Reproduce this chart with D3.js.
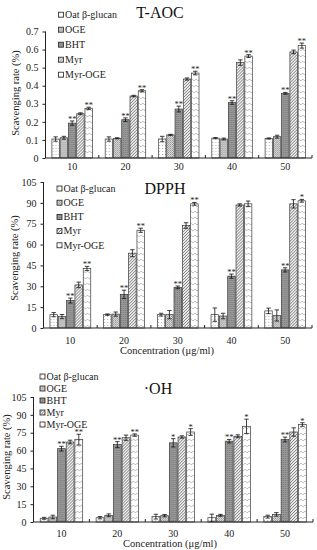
<!DOCTYPE html>
<html>
<head>
<meta charset="utf-8">
<script src="https://cdn.jsdelivr.net/npm/d3@7"></script>
<style>
  body { margin: 0; background: #fff; }
  svg { display: block; font-family: "Liberation Serif", "Times New Roman", serif; }
</style>
</head>
<body>
<svg id="chart" width="317" height="550"></svg>
<script>
var categories = ["10", "20", "30", "40", "50"];
var series = ["Oat β-glucan", "OGE", "BHT", "Myr", "Myr-OGE"];

// T-AOC values, one row per concentration, columns follow series
var taocValues = [
    [0.105, 0.112, 0.193, 0.245, 0.275],
    [0.105, 0.109, 0.212, 0.343, 0.372],
    [0.105, 0.128, 0.271, 0.437, 0.470],
    [0.110, 0.105, 0.307, 0.528, 0.564],
    [0.108, 0.118, 0.358, 0.587, 0.622]
];
var taocErrors = [
    [0.012, 0.008, 0.012, 0.005, 0.006],
    [0.012, 0.003, 0.010, 0.004, 0.006],
    [0.015, 0.003, 0.016, 0.006, 0.010],
    [0.003, 0.005, 0.010, 0.015, 0.008],
    [0.003, 0.008, 0.005, 0.010, 0.014]
];
var taocStars = [
    ["", "", "**", "", "**"],
    ["", "", "**", "", "**"],
    ["", "", "**", "", "**"],
    ["", "", "**", "", "**"],
    ["", "", "**", "", "**"]
];

var dpphValues = [
    [9.6, 8.2, 19.7, 31.0, 42.8],
    [9.6, 10.0, 24.2, 53.8, 70.3],
    [9.6, 9.6, 29.2, 73.7, 89.3],
    [9.6, 8.6, 37.3, 88.5, 89.3],
    [12.3, 9.0, 41.8, 89.3, 91.5]
];
var dpphErrors = [
    [1.5, 1.5, 1.8, 2.0, 1.5],
    [0.5, 1.5, 3.0, 2.5, 1.5],
    [1.0, 3.0, 1.0, 2.0, 1.0],
    [4.8, 2.0, 1.5, 0.8, 2.0],
    [2.0, 4.0, 1.5, 3.0, 1.0]
];
var dpphStars = [
    ["", "", "**", "", "**"],
    ["", "", "**", "", "**"],
    ["", "", "**", "", "**"],
    ["", "", "**", "", ""],
    ["", "", "**", "", "*"]
];

var ohValues = [
    [3.1, 4.2, 61.6, 67.2, 69.2],
    [3.6, 5.6, 65.0, 70.8, 73.0],
    [4.5, 5.3, 66.5, 71.4, 75.6],
    [3.6, 5.6, 67.9, 72.0, 80.4],
    [4.5, 6.4, 69.3, 75.6, 81.9]
];
var ohErrors = [
    [0.8, 1.5, 2.0, 1.5, 4.5],
    [1.0, 1.2, 2.5, 2.2, 1.0],
    [2.0, 1.0, 3.5, 1.0, 2.8],
    [3.0, 0.8, 1.5, 1.2, 6.0],
    [1.2, 1.5, 2.0, 3.5, 1.5]
];
var ohStars = [
    ["", "", "**", "", "**"],
    ["", "", "**", "", "**"],
    ["", "", "*", "", "*"],
    ["", "", "**", "", "*"],
    ["", "", "**", "", "*"]
];

var taocTicks = [0, 0.1, 0.2, 0.3, 0.4, 0.5, 0.6, 0.7];
var rateTicks = [0, 15, 30, 45, 60, 75, 90, 105];

var svg = d3.select("#chart");

/*
 * fill patterns for the five series
 */
var defs = svg.append("defs");

var p0 = defs.append("pattern").attr("id", "pat0").attr("patternUnits", "userSpaceOnUse")
    .attr("width", 3).attr("height", 3);
p0.append("rect").attr("width", 3).attr("height", 3).attr("fill", "#ffffff");
p0.append("rect").attr("x", 1).attr("y", 1).attr("width", 1).attr("height", 1).attr("fill", "#b5b5b5");

var p1 = defs.append("pattern").attr("id", "pat1").attr("patternUnits", "userSpaceOnUse")
    .attr("width", 2).attr("height", 2);
p1.append("rect").attr("width", 2).attr("height", 2).attr("fill", "#e2e2e2");
p1.append("rect").attr("width", 1).attr("height", 1).attr("fill", "#8f8f8f");
p1.append("rect").attr("x", 1).attr("y", 1).attr("width", 1).attr("height", 1).attr("fill", "#a5a5a5");

var p2 = defs.append("pattern").attr("id", "pat2").attr("patternUnits", "userSpaceOnUse")
    .attr("width", 2).attr("height", 2);
p2.append("rect").attr("width", 2).attr("height", 2).attr("fill", "#979797");
p2.append("rect").attr("width", 1).attr("height", 1).attr("fill", "#7c7c7c");

var p3 = defs.append("pattern").attr("id", "pat3").attr("patternUnits", "userSpaceOnUse")
    .attr("width", 3).attr("height", 3);
p3.append("rect").attr("width", 3).attr("height", 3).attr("fill", "#ececec");
p3.append("path").attr("d", "M-1,1 L1,-1 M0,3 L3,0 M2,4 L4,2")
    .attr("stroke", "#747474").attr("stroke-width", 0.9);

var p4 = defs.append("pattern").attr("id", "pat4").attr("patternUnits", "userSpaceOnUse")
    .attr("width", 4).attr("height", 6);
p4.append("rect").attr("width", 4).attr("height", 6).attr("fill", "#ffffff");
p4.append("path").attr("d", "M0,1 L2,3 L4,1")
    .attr("fill", "none").attr("stroke", "#a8a8a8").attr("stroke-width", 0.7);

var fills = ["url(#pat0)", "url(#pat1)", "url(#pat2)", "url(#pat3)", "url(#pat4)"];

/*
 * draws one bar panel
 * @param {object} cfg  layout of the panel
 */
function renderPanel(cfg) {
    var g = svg.append("g");

    var x0 = d3.scaleBand().domain(categories).range([cfg.left, cfg.right]);
    var bw = x0.bandwidth();
    var x1 = d3.scaleBand().domain(series).range([bw * 0.12, bw * 0.88]).paddingInner(0.1);
    var y = d3.scaleLinear().domain([0, cfg.ymax]).range([cfg.bottom, cfg.top]);

    // bars
    var groups = g.selectAll("g.grp")
        .data(categories)
        .enter().append("g")
        .attr("class", "grp")
        .attr("transform", function(d) { return "translate(" + x0(d) + ",0)"; });

    groups.each(function(c, ci) {
        var grp = d3.select(this);
        series.forEach(function(s, si) {
            var v = cfg.values[ci][si];
            var e = cfg.errors[ci][si];
            var bx = x1(s);
            var cx = bx + x1.bandwidth() / 2;
            grp.append("rect")
                .attr("x", bx)
                .attr("y", y(v))
                .attr("width", x1.bandwidth())
                .attr("height", y(0) - y(v))
                .attr("fill", fills[si])
                .attr("stroke", "#3a3a3a")
                .attr("stroke-width", 0.7);

            // error bar
            grp.append("line")
                .attr("x1", cx).attr("x2", cx)
                .attr("y1", y(v - e)).attr("y2", y(v + e))
                .attr("stroke", "#111").attr("stroke-width", 0.8);
            [v - e, v + e].forEach(function(yy) {
                grp.append("line")
                    .attr("x1", cx - 2.2).attr("x2", cx + 2.2)
                    .attr("y1", y(yy)).attr("y2", y(yy))
                    .attr("stroke", "#111").attr("stroke-width", 0.8);
            });

            var star = cfg.stars[ci][si];
            if (star) {
                grp.append("text")
                    .attr("x", cx)
                    .attr("y", y(v + e) + 1)
                    .attr("text-anchor", "middle")
                    .attr("font-size", 8.5)
                    .attr("fill", "#222")
                    .text(star);
            }
        });
    });

    // y axis
    var yAxis = d3.axisLeft(y)
        .tickValues(cfg.ticks)
        .tickSize(3)
        .tickPadding(4)
        .tickFormat(cfg.format);
    var ya = g.append("g")
        .attr("transform", "translate(" + cfg.left + ",0)")
        .call(yAxis);
    ya.select(".domain").attr("stroke", "#222").attr("d", "M0," + y(cfg.ymax) + "V" + y(0));
    ya.selectAll(".tick line").attr("stroke", "#222");
    ya.selectAll("text").attr("font-size", 10).attr("fill", "#222")
        .attr("font-family", "Liberation Serif, serif");

    // x axis line and boundary ticks
    g.append("line")
        .attr("x1", cfg.left).attr("x2", cfg.right)
        .attr("y1", y(0)).attr("y2", y(0))
        .attr("stroke", "#222").attr("stroke-width", 1);
    categories.slice(1).concat(["end"]).forEach(function(c) {
        var bx = (c === "end") ? cfg.right : x0(c);
        g.append("line")
            .attr("x1", bx).attr("x2", bx)
            .attr("y1", y(0)).attr("y2", y(0) - 3)
            .attr("stroke", "#222");
    });
    g.selectAll("text.xlab")
        .data(categories)
        .enter().append("text")
        .attr("class", "xlab")
        .attr("x", function(d) { return x0(d) + bw / 2; })
        .attr("y", y(0) + cfg.xlabGap)
        .attr("text-anchor", "middle")
        .attr("font-size", 10)
        .attr("fill", "#222")
        .text(function(d) { return d; });

    if (cfg.xTitleY) {
        g.append("text")
            .attr("x", cfg.xTitleX)
            .attr("y", cfg.xTitleY)
            .attr("text-anchor", "middle")
            .attr("font-size", 10.5)
            .attr("fill", "#222")
            .text("Concentration (μg/ml)");
    }

    // y title
    g.append("text")
        .attr("transform", "translate(" + cfg.yTitleX + "," + cfg.yTitleY + ") rotate(-90)")
        .attr("text-anchor", "middle")
        .attr("font-size", 10.5)
        .attr("fill", "#222")
        .text("Scavenging rate (%)");

    // panel title
    g.append("text")
        .attr("x", cfg.titleX)
        .attr("y", cfg.titleY)
        .attr("text-anchor", "middle")
        .attr("font-size", 16)
        .attr("fill", "#111")
        .text(cfg.title);

    // legend
    var legend = g.append("g")
        .selectAll("g")
        .data(series)
        .enter().append("g")
        .attr("transform", function(d, i) {
            return "translate(" + cfg.legX + "," + (cfg.legY + i * cfg.legStep) + ")";
        });
    legend.append("rect")
        .attr("x", 0).attr("y", -2.5)
        .attr("width", 5).attr("height", 5)
        .attr("fill", function(d, i) { return fills[i]; })
        .attr("stroke", "#222").attr("stroke-width", 0.8);
    legend.append("text")
        .attr("x", 6.5)
        .attr("y", 3.3)
        .attr("font-size", 10)
        .attr("fill", "#222")
        .text(function(d) { return d; });
}

renderPanel({
    title: "T-AOC", titleX: 160, titleY: 18,
    left: 45.5, right: 312, top: 31.5, bottom: 158, ymax: 0.7,
    ticks: taocTicks, format: function(d) { return d === 0 ? "0" : d.toFixed(1); },
    values: taocValues, errors: taocErrors, stars: taocStars,
    xlabGap: 12, xTitleY: null,
    yTitleX: 19, yTitleY: 93,
    legX: 58.5, legY: 14.7, legStep: 15
});

renderPanel({
    title: "DPPH", titleX: 165, titleY: 194,
    left: 43.5, right: 312, top: 182, bottom: 328, ymax: 105,
    ticks: rateTicks, format: d3.format("d"),
    values: dpphValues, errors: dpphErrors, stars: dpphStars,
    xlabGap: 16, xTitleX: 167, xTitleY: 354,
    yTitleX: 18, yTitleY: 258,
    legX: 57, legY: 188.5, legStep: 14.2
});

renderPanel({
    title: "·OH", titleX: 158, titleY: 393.5,
    left: 33.5, right: 313, top: 397, bottom: 522, ymax: 105,
    ticks: rateTicks, format: d3.format("d"),
    values: ohValues, errors: ohErrors, stars: ohStars,
    xlabGap: 14.5, xTitleX: 170, xTitleY: 546.5,
    yTitleX: 10, yTitleY: 457,
    legX: 40, legY: 376.5, legStep: 12
});
</script>
</body>
</html>
